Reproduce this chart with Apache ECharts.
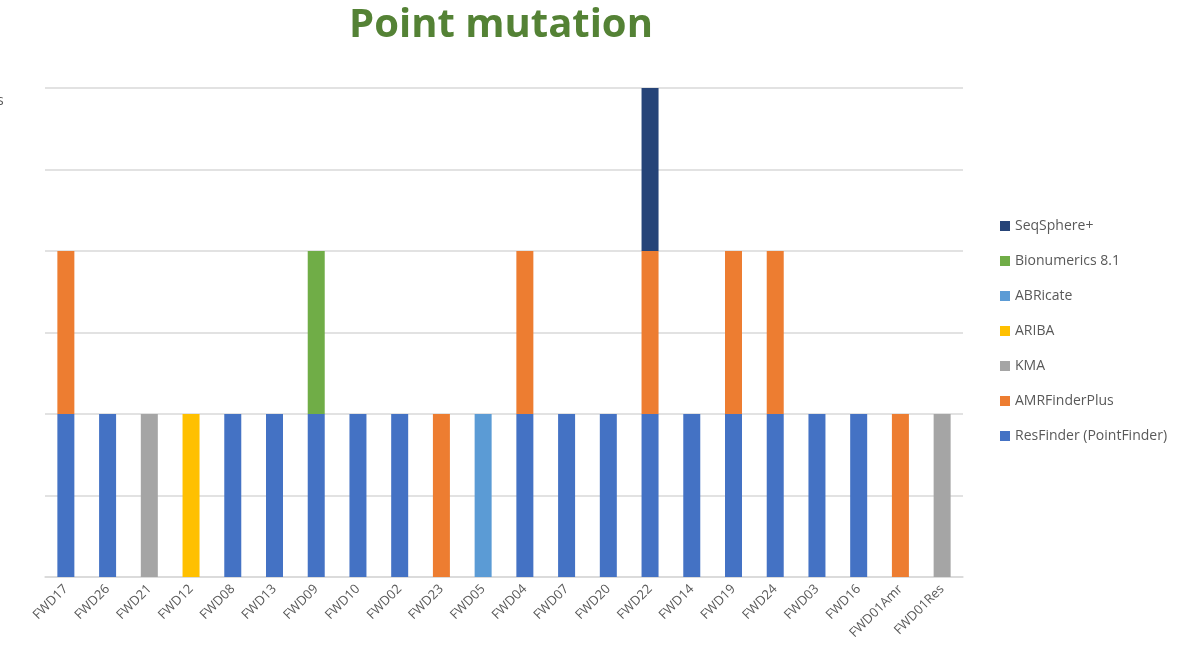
<!DOCTYPE html>
<html>
<head>
<meta charset="utf-8">
<script src="https://cdn.jsdelivr.net/npm/echarts@6/dist/echarts.min.js"></script>
<style>
  html, body { margin: 0; padding: 0; background: #fff; }
  #main { width: 1196px; height: 666px; }
</style>
</head>
<body>
<div id="main"></div>
<script>
// 样本名称
var categories = ['FWD17', 'FWD26', 'FWD21', 'FWD12', 'FWD08', 'FWD13', 'FWD09', 'FWD10', 'FWD02', 'FWD23', 'FWD05',
    'FWD04', 'FWD07', 'FWD20', 'FWD22', 'FWD14', 'FWD19', 'FWD24', 'FWD03', 'FWD16', 'FWD01Amr', 'FWD01Res'];

// 各工具的数值 (null = 没有)
var resFinder    = [2, 2, null, null, 2, 2, 2, 2, 2, null, null, 2, 2, 2, 2, 2, 2, 2, 2, 2, null, null];
var amrFinder    = [2, null, null, null, null, null, null, null, null, 2, null, 2, null, null, 2, null, 2, 2, null, null, 2, null];
var kma          = [null, null, 2, null, null, null, null, null, null, null, null, null, null, null, null, null, null, null, null, null, null, 2];
var ariba        = [null, null, null, 2, null, null, null, null, null, null, null, null, null, null, null, null, null, null, null, null, null, null];
var abricate     = [null, null, null, null, null, null, null, null, null, null, 2, null, null, null, null, null, null, null, null, null, null, null];
var bionumerics  = [null, null, null, null, null, null, 2, null, null, null, null, null, null, null, null, null, null, null, null, null, null, null];
var seqSphere    = [null, null, null, null, null, null, null, null, null, null, null, null, null, null, 2, null, null, null, null, null, null, null];

var chart = echarts.init(document.getElementById('main'));

function bar(name, data, color) {
    return {
        name: name,
        type: 'bar',
        stack: 'total',
        barWidth: 17,
        data: data,
        itemStyle: { color: color }
    };
}

var option = {
    animation: false,
    title: {
        text: 'Point mutation',
        left: 496,
        top: 1,
        textAlign: 'center',
        textStyle: {
            color: '#548235',
            fontSize: 40,
            fontWeight: 'bold',
            fontFamily: 'Open Sans'
        }
    },
    graphic: [{
        type: 'text',
        left: -3,
        top: 94,
        style: { text: 's', fill: '#595959', font: '14px Open Sans' }
    }],
    legend: {
        orient: 'vertical',
        left: 995,
        top: 214,
        itemWidth: 10,
        itemHeight: 10,
        itemGap: 21,
        icon: 'rect',
        textStyle: { color: '#595959', fontSize: 14, fontFamily: 'Open Sans' },
        data: ['SeqSphere+', 'Bionumerics 8.1', 'ABRicate', 'ARIBA', 'KMA', 'AMRFinderPlus', 'ResFinder (PointFinder)']
    },
    grid: {
        left: 45,
        right: 233,
        top: 88,
        bottom: 89
    },
    xAxis: {
        type: 'category',
        data: categories,
        axisLine: { lineStyle: { color: '#d9d9d9', width: 1.5 } },
        axisTick: { show: false },
        axisLabel: {
            interval: 0,
            rotate: 45,
            color: '#595959',
            fontSize: 13,
            fontFamily: 'Open Sans',
            margin: 10
        }
    },
    yAxis: {
        type: 'value',
        min: 0,
        max: 6,
        interval: 1,
        axisLabel: { show: false },
        axisLine: { show: false },
        axisTick: { show: false },
        splitLine: { lineStyle: { color: '#d9d9d9', width: 1.5 } }
    },
    series: [
        bar('ResFinder (PointFinder)', resFinder, '#4472C4'),
        bar('AMRFinderPlus', amrFinder, '#ED7D31'),
        bar('KMA', kma, '#A5A5A5'),
        bar('ARIBA', ariba, '#FFC000'),
        bar('ABRicate', abricate, '#5B9BD5'),
        bar('Bionumerics 8.1', bionumerics, '#70AD47'),
        bar('SeqSphere+', seqSphere, '#264478')
    ]
};
chart.setOption(option);
</script>
</body>
</html>
